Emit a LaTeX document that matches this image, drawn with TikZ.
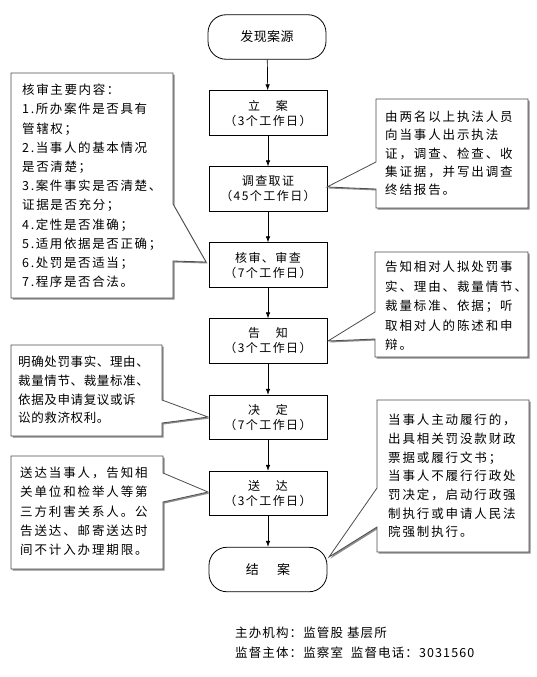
\documentclass[tikz,border=0pt]{standalone}
\usepackage{fontspec}
\setmainfont{Noto Sans CJK SC}
\usetikzlibrary{arrows.meta}
\begin{document}
\begin{tikzpicture}[x=1pt,y=-1pt]
\tikzset{
  stepbox/.style={draw, line width=0.8pt, minimum width=118pt, minimum height=44.5pt,
    inner sep=0pt, align=center, font={\fontsize{12}{15}\selectfont\addfontfeature{LetterSpace=12}}},
  term/.style={stepbox, rounded corners=18pt, font={\fontsize{13}{15}\selectfont\addfontfeature{LetterSpace=3}}},
  flow/.style={-{Latex[length=6pt,width=4.5pt]}, line width=0.7pt},
  callshadow/.style={fill=black!45, draw=none},
  callout/.style={draw=black!70, line width=0.8pt, fill=white, line join=miter},
  ctext/.style={anchor=west, align=left, inner sep=0pt},
  foot/.style={anchor=west, inner sep=0pt, font={\fontsize{12.5}{15}\selectfont\addfontfeature{LetterSpace=9}}}
}
\useasboundingbox (0,0) rectangle (537,677);

% ---- main flow nodes
\node[term]    (start) at (267,37)    {发现案源};
\node[stepbox] (b1)    at (268,113)   {立\hspace{1.3em}案\\（3个工作日）};
\node[stepbox] (b2)    at (268,189)   {调查取证\\（45个工作日）};
\node[stepbox] (b3)    at (268,265)   {核审、审查\\（7个工作日）};
\node[stepbox] (b4)    at (268,341)   {告\hspace{1.3em}知\\（3个工作日）};
\node[stepbox] (b5)    at (268,417.5) {决\hspace{1.3em}定\\（7个工作日）};
\node[stepbox] (b6)    at (268,493.5) {送\hspace{1.3em}达\\（3个工作日）};
\node[term]    (end)   at (268,569.5) {结\hspace{1.4em}案};

\draw[flow] (start) -- (b1);
\draw[flow] (b1) -- (b2);
\draw[flow] (b2) -- (b3);
\draw[flow] (b3) -- (b4);
\draw[flow] (b4) -- (b5);
\draw[flow] (b5) -- (b6);
\draw[flow] (b6) -- (end);

% ---- callout A (left, review)
\begin{scope}[shift={(1.5,1.5)}]
\fill[callshadow] (11,73) -- (173,73) -- (173,204) -- (206,262) -- (173,261) -- (173,298) -- (11,298) -- cycle;
\end{scope}
\draw[callout] (11,73) -- (173,73) -- (173,204) -- (206,262) -- (173,261) -- (173,298) -- (11,298) -- cycle;
\node[ctext, font={\fontsize{12.5}{19.2}\selectfont\addfontfeature{LetterSpace=13}}] (tA) at (22,186) {核审主要内容：\\1.所办案件是否具有\\管辖权；\\2.当事人的基本情况\\是否清楚；\\3.案件事实是否清楚、\\证据是否充分；\\4.定性是否准确；\\5.适用依据是否正确；\\6.处罚是否适当；\\7.程序是否合法。};

% ---- callout B (right, investigation)
\begin{scope}[shift={(1.5,1.5)}]
\fill[callshadow] (376,99) -- (528,99) -- (528,208) -- (376,208) -- (376,189) -- (327,187) -- (376,162) -- cycle;
\end{scope}
\draw[callout] (376,99) -- (528,99) -- (528,208) -- (376,208) -- (376,189) -- (327,187) -- (376,162) -- cycle;
\node[ctext, font={\fontsize{12.5}{18.3}\selectfont\addfontfeature{LetterSpace=15}}] (tB) at (385,153.5) {由两名以上执法人员\\向当事人出示执法\\证，调查、检查、收\\集证据，并写出调查\\终结报告。};

% ---- callout C (right, notice)
\begin{scope}[shift={(1.5,1.5)}]
\fill[callshadow] (375,252) -- (528,252) -- (528,357) -- (375,357) -- (375,339) -- (328,341) -- (375,312) -- cycle;
\end{scope}
\draw[callout] (375,252) -- (528,252) -- (528,357) -- (375,357) -- (375,339) -- (328,341) -- (375,312) -- cycle;
\node[ctext, font={\fontsize{12.5}{19.5}\selectfont\addfontfeature{LetterSpace=15}}] (tC) at (385,306) {告知相对人拟处罚事\\实、理由、裁量情节、\\裁量标准、依据；听\\取相对人的陈述和申\\辩。};

% ---- callout D (left, decision)
\begin{scope}[shift={(1.5,1.5)}]
\fill[callshadow] (11,345) -- (162,345) -- (162,400) -- (208,417) -- (162,423) -- (162,436) -- (11,436) -- cycle;
\end{scope}
\draw[callout] (11,345) -- (162,345) -- (162,400) -- (208,417) -- (162,423) -- (162,436) -- (11,436) -- cycle;
\node[ctext, font={\fontsize{12.5}{18.7}\selectfont\addfontfeature{LetterSpace=5}}] (tD) at (18,390) {明确处罚事实、理由、\\裁量情节、裁量标准、\\依据及申请复议或诉\\讼的救济权利。};

% ---- callout E (left, delivery)
\begin{scope}[shift={(1.5,1.5)}]
\fill[callshadow] (11,456) -- (163,456) -- (163,473) -- (208,492) -- (163,502) -- (163,569) -- (11,569) -- cycle;
\end{scope}
\draw[callout] (11,456) -- (163,456) -- (163,473) -- (208,492) -- (163,502) -- (163,569) -- (11,569) -- cycle;
\node[ctext, font={\fontsize{12.5}{19.3}\selectfont\addfontfeature{LetterSpace=15}}] (tE) at (20,511.5) {送达当事人，告知相\\关单位和检举人等第\\三方利害关系人。公\\告送达、邮寄送达时\\间不计入办理期限。};

% ---- callout F (right, closing)
\begin{scope}[shift={(1.5,1.5)}]
\fill[callshadow] (377,400) -- (529,400) -- (529,552) -- (377,552) -- (377,527) -- (329,557) -- (377,488) -- cycle;
\end{scope}
\draw[callout] (377,400) -- (529,400) -- (529,552) -- (377,552) -- (377,527) -- (329,557) -- (377,488) -- cycle;
\node[ctext, font={\fontsize{12.5}{18.7}\selectfont\addfontfeature{LetterSpace=15}}] (tF) at (388,476) {当事人主动履行的，\\出具相关罚没款财政\\票据或履行文书；\\当事人不履行行政处\\罚决定，启动行政强\\制执行或申请人民法\\院强制执行。};

% ---- footer
\node[foot] (f1) at (235,633) {主办机构：监管股 基层所};
\node[foot] (f2) at (235,653) {监督主体：监察室\ \ 监督电话：3031560};
\end{tikzpicture}
\end{document}
